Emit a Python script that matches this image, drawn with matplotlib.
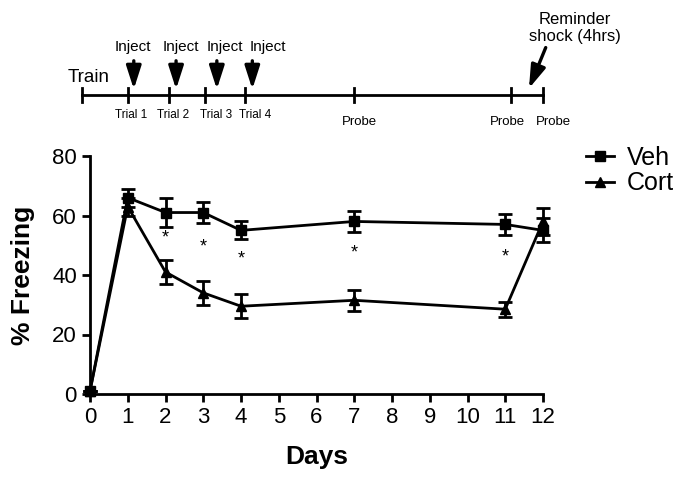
import matplotlib
matplotlib.use("Agg")
import matplotlib.pyplot as plt
import numpy as np

plt.rcParams['font.family'] = ['Liberation Sans', 'DejaVu Sans']

days = [0, 1, 2, 3, 4, 7, 11, 12]
veh = [1, 66, 61, 61, 55, 58, 57, 55]
veh_err = [0, 3, 5, 3.5, 3, 3.5, 3.5, 4]
cort = [1, 63, 41, 34, 29.5, 31.5, 28.5, 58]
cort_err = [0, 3, 4, 4, 4, 3.5, 2.5, 4.5]
star_days = [2, 3, 4, 7, 11]
star_y = [52.5, 49.5, 45.5, 47.5, 46]
xticks = list(range(13))
yticks = [0, 20, 40, 60, 80]

# timeline (top schematic)
tl_ticks = [-0.2, 1.0, 2.1, 3.05, 4.1, 7.0, 11.15, 12.0]
inject_x = [1.16, 2.28, 3.36, 4.3]
inject_label_x = [1.13, 2.4, 3.56, 4.7]
trial_labels = ["Trial 1", "Trial 2", "Trial 3", "Trial 4"]
trial_x = [1.09, 2.2, 3.34, 4.37]
probe_labels = ["Probe", "Probe", "Probe"]
probe_x = [7.15, 11.05, 12.27]

W, H = 685, 478
fig = plt.figure(figsize=(W / 100, H / 100), dpi=100)

L, R, B, T = 90, 543, 394, 156
ax = fig.add_axes([L / W, 1 - B / H, (R - L) / W, (B - T) / H])
ax.errorbar(days, veh, yerr=veh_err, color='black', marker='s', markersize=7,
            linewidth=2, elinewidth=2, capsize=5, capthick=2, label='Veh', clip_on=False, zorder=3)
ax.errorbar(days, cort, yerr=cort_err, color='black', marker='^', markersize=7,
            linewidth=2, elinewidth=2, capsize=5, capthick=2, label='Cort', clip_on=False, zorder=3)
for d, y in zip(star_days, star_y):
    ax.text(d, y, '*', ha='center', va='center', fontsize=13)

ax.set_xlim(0, 12)
ax.set_ylim(0, 80)
ax.set_xticks(xticks)
ax.set_yticks(yticks)
ax.spines['top'].set_visible(False)
ax.spines['right'].set_visible(False)
ax.spines['left'].set_linewidth(2)
ax.spines['bottom'].set_linewidth(2)
ax.tick_params(width=2, length=6, labelsize=16, direction='out')
ax.set_xlabel('Days', fontsize=19, fontweight='bold', labelpad=12)
ax.set_ylabel('% Freezing', fontsize=19, fontweight='bold', labelpad=12)

handles, labels = ax.get_legend_handles_labels()
handles = [h[0] for h in handles]
fig.legend(handles, labels, loc='upper left', bbox_to_anchor=(586 / W, 1 - 146 / H),
           frameon=False, fontsize=18, handlelength=1.1, handletextpad=0.55,
           labelspacing=0.05, borderaxespad=0, borderpad=0)

# timeline axes: data x same as main, y in pixel units
ax2 = fig.add_axes([L / W, 1 - 140 / H, (R - L) / W, 140 / H])
ax2.set_xlim(0, 12)
ax2.set_ylim(140, 0)
ax2.axis('off')
ty = 95
ax2.plot([tl_ticks[0], tl_ticks[-1]], [ty, ty], color='black', lw=2, clip_on=False)
for x in tl_ticks:
    ax2.plot([x, x], [ty - 7, ty + 7], color='black', lw=2, clip_on=False)
ax2.text(tl_ticks[0] - 0.4, ty - 17, 'Train', ha='left', va='center', fontsize=13.5)
arrow_style = dict(arrowstyle='-|>,head_width=0.45,head_length=1.4', color='black', lw=2.4)
for x, lx in zip(inject_x, inject_label_x):
    ax2.annotate('', xy=(x, ty - 3), xytext=(x, ty - 37), arrowprops=arrow_style,
                 annotation_clip=False)
    ax2.text(lx, ty - 48, 'Inject', ha='center', va='center', fontsize=11)
for x, t in zip(trial_x, trial_labels):
    ax2.text(x, 115, t, ha='center', va='center', fontsize=8.5)
for x, t in zip(probe_x, probe_labels):
    ax2.text(x, 122, t, ha='center', va='center', fontsize=9.5)
ax2.annotate('', xy=(11.6, ty - 4), xytext=(12.1, ty - 50), arrowprops=arrow_style,
             annotation_clip=False)
ax2.text(12.85, 28, 'Reminder\nshock (4hrs)', ha='center', va='center', fontsize=12, linespacing=1.25)

fig.savefig('out.png', dpi=100)
